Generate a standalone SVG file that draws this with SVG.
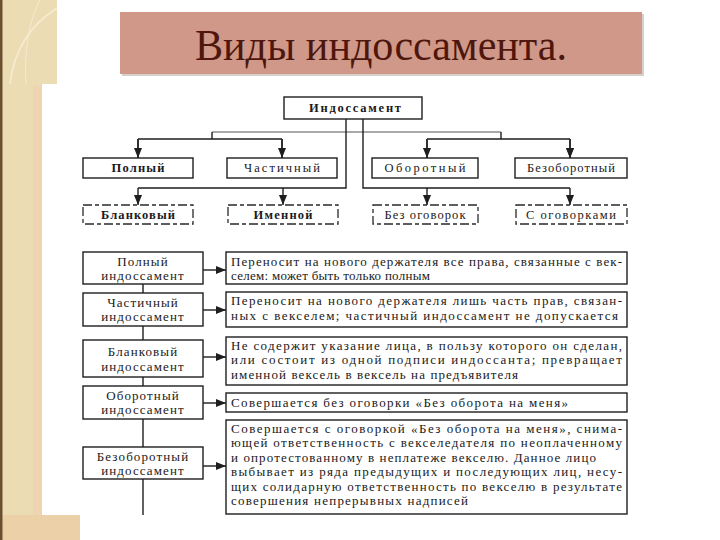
<svg xmlns="http://www.w3.org/2000/svg" width="720" height="540" viewBox="0 0 720 540">
<defs>
<style>
.box{fill:#fff;stroke:#1e1e1e;stroke-width:1.4}
.dbox{fill:#fff;stroke:#2a2a2a;stroke-width:1.3;stroke-dasharray:9 3 4 3}
.lb{font-family:"Liberation Serif","DejaVu Serif",serif;font-size:12.5px;fill:#1a1a1a;text-anchor:middle;font-weight:bold}
.ln2{font-family:"Liberation Serif","DejaVu Serif",serif;font-size:12.5px;fill:#1a1a1a;text-anchor:middle}
.tl{font-family:"Liberation Serif","DejaVu Serif",serif;font-size:13px;fill:#1a1a1a;text-anchor:middle;letter-spacing:1.1px}
.tx{font-family:"Liberation Serif","DejaVu Serif",serif;font-size:13px;fill:#1a1a1a}
.ln{stroke:#1e1e1e;stroke-width:1.4;fill:none}
.lg{stroke:#555;stroke-width:1.2;fill:none}
</style>
<marker id="ah" viewBox="0 0 10 8" refX="10" refY="4" markerWidth="10" markerHeight="8" markerUnits="userSpaceOnUse" orient="auto">
<path d="M0,0 L10,4 L0,8 z" fill="#1e1e1e"/>
</marker>
</defs>
<rect x="0" y="0" width="720" height="540" fill="#fff"/>
<g id="decor">
<rect x="0" y="0" width="42" height="540" fill="#ecdcb4"/>
<rect x="33" y="85" width="9" height="430" fill="#efd4b2"/>
<rect x="0" y="0" width="57" height="84" fill="#ecdcb4"/>
<path d="M57,8 C30,25 14,50 10,84" stroke="#f6ecd2" stroke-width="1.5" fill="none"/>
<path d="M40,0 C30,20 24,45 26,84" stroke="#f6ecd2" stroke-width="1" fill="none"/>
<rect x="0" y="515" width="80" height="25" fill="#ebd0a8"/>
<rect x="0" y="0" width="2.5" height="540" fill="#6b5030"/>
</g>
<g id="title">
<rect x="122" y="14" width="522" height="62" fill="#d6d0cc"/>
<rect x="120" y="12" width="522" height="62" fill="#d09888"/>
<text x="381" y="60" font-family="Liberation Serif, DejaVu Serif, serif" font-size="44" fill="#4e160c" text-anchor="middle" textLength="372" lengthAdjust="spacingAndGlyphs">Виды индоссамента.</text>
</g>
<g id="connectors">
<path class="lg" d="M212,132 H501"/>
<path class="ln" d="M212,132 V139 M138,139 H282 M501,132 V139 M427,139 H570"/>
<path class="ln" d="M138,139 V158 M282,139 V158 M427,139 V158 M570,139 V158" marker-end="url(#ah)"/>
<path class="ln" d="M138,139 V158" marker-end="url(#ah)"/>
<path class="ln" d="M282,139 V158" marker-end="url(#ah)"/>
<path class="ln" d="M427,139 V158" marker-end="url(#ah)"/>
<path class="ln" d="M570,139 V158" marker-end="url(#ah)"/>
<path class="ln" d="M346,119 V188 H138 M363,119 V188 H570"/>
<path class="ln" d="M138,188 V205" marker-end="url(#ah)"/>
<path class="ln" d="M283,188 V205" marker-end="url(#ah)"/>
<path class="ln" d="M427,188 V205" marker-end="url(#ah)"/>
<path class="ln" d="M570,188 V205" marker-end="url(#ah)"/>
<path class="ln" d="M143,284 V515"/>
<path class="ln" d="M203,270 H226" marker-end="url(#ah)"/>
<path class="ln" d="M203,310 H226" marker-end="url(#ah)"/>
<path class="ln" d="M203,357 H226" marker-end="url(#ah)"/>
<path class="ln" d="M203,403 H226" marker-end="url(#ah)"/>
<path class="ln" d="M203,466 H226" marker-end="url(#ah)"/>
</g>
<g id="n-indossament"><rect class="box" x="284" y="97" width="138" height="22"/><text class="lb" x="355" y="112" textLength="92">Индоссамент</text></g>
<g id="n-polny"><rect class="box" x="83" y="158" width="110" height="20"/><text class="lb" x="138" y="172" textLength="53">Полный</text></g>
<g id="n-chastichny"><rect class="box" x="227" y="158" width="110" height="20"/><text class="ln2" x="282" y="172" textLength="76">Частичный</text></g>
<g id="n-oborotny"><rect class="box" x="372" y="158" width="106" height="20"/><text class="ln2" x="425" y="172" textLength="81">Оборотный</text></g>
<g id="n-bezoborotny"><rect class="box" x="515" y="158" width="112" height="20"/><text class="ln2" x="571" y="172" textLength="88">Безоборотный</text></g>
<g id="n-blankovy"><rect class="dbox" x="83" y="205" width="110" height="19"/><text class="lb" x="138" y="219" textLength="74">Бланковый</text></g>
<g id="n-imennoy"><rect class="dbox" x="228" y="205" width="110" height="19"/><text class="lb" x="283" y="219" textLength="59">Именной</text></g>
<g id="n-bez-ogovorok"><rect class="dbox" x="373" y="205" width="105" height="19"/><text class="ln2" x="425" y="219" textLength="81">Без оговорок</text></g>
<g id="n-s-ogovorkami"><rect class="dbox" x="516" y="205" width="111" height="19"/><text class="ln2" x="571" y="219" textLength="90">С оговорками</text></g>
<g id="t-polny"><rect class="box" x="83" y="252" width="120" height="32"/><text class="tl" x="143" y="266">Полный</text><text class="tl" x="143" y="280">индоссамент</text></g>
<g id="t-chastichny"><rect class="box" x="83" y="293" width="120" height="33"/><text class="tl" x="143" y="307">Частичный</text><text class="tl" x="143" y="321">индоссамент</text></g>
<g id="t-blankovy"><rect class="box" x="83" y="340" width="120" height="37"/><text class="tl" x="143" y="356">Бланковый</text><text class="tl" x="143" y="371">индоссамент</text></g>
<g id="t-oborotny"><rect class="box" x="83" y="386" width="120" height="33"/><text class="tl" x="143" y="400">Оборотный</text><text class="tl" x="143" y="414">индоссамент</text></g>
<g id="t-bezoborotny"><rect class="box" x="83" y="447" width="120" height="32"/><text class="tl" x="143" y="461">Безоборотный</text><text class="tl" x="143" y="475">индоссамент</text></g>
<g id="d-polny"><rect class="box" x="226" y="252" width="401" height="32"/>
<text class="tx" x="231" y="266" textLength="391">Переносит на нового держателя все права, связанные с век-</text>
<text class="tx" x="231" y="280" textLength="199">селем: может быть только полным</text></g>
<g id="d-chastichny"><rect class="box" x="226" y="292" width="401" height="35"/>
<text class="tx" x="231" y="305" textLength="391">Переносит на нового держателя лишь часть прав, связан-</text>
<text class="tx" x="231" y="320" textLength="387">ных с векселем; частичный индоссамент не допускается</text></g>
<g id="d-blankovy"><rect class="box" x="226" y="337" width="401" height="48"/>
<text class="tx" x="231" y="350" textLength="391">Не содержит указание лица, в пользу которого он сделан,</text>
<text class="tx" x="231" y="364" textLength="391">или состоит из одной подписи индоссанта; превращает</text>
<text class="tx" x="231" y="379" textLength="287">именной вексель в вексель на предъявителя</text></g>
<g id="d-oborotny"><rect class="box" x="226" y="393" width="401" height="19"/>
<text class="tx" x="231" y="407" textLength="337">Совершается без оговорки «Без оборота на меня»</text></g>
<g id="d-bezoborotny"><rect class="box" x="226" y="420" width="401" height="94"/>
<text class="tx" x="231" y="433" textLength="391">Совершается с оговоркой «Без оборота на меня», снима-</text>
<text class="tx" x="231" y="447" textLength="391">ющей ответственность с векселедателя по неоплаченному</text>
<text class="tx" x="231" y="462" textLength="365">и опротестованному в неплатеже векселю. Данное лицо</text>
<text class="tx" x="231" y="476" textLength="391">выбывает из ряда предыдущих и последующих лиц, несу-</text>
<text class="tx" x="231" y="491" textLength="391">щих солидарную ответственность по векселю в результате</text>
<text class="tx" x="231" y="505" textLength="237">совершения непрерывных надписей</text></g>
</svg>
